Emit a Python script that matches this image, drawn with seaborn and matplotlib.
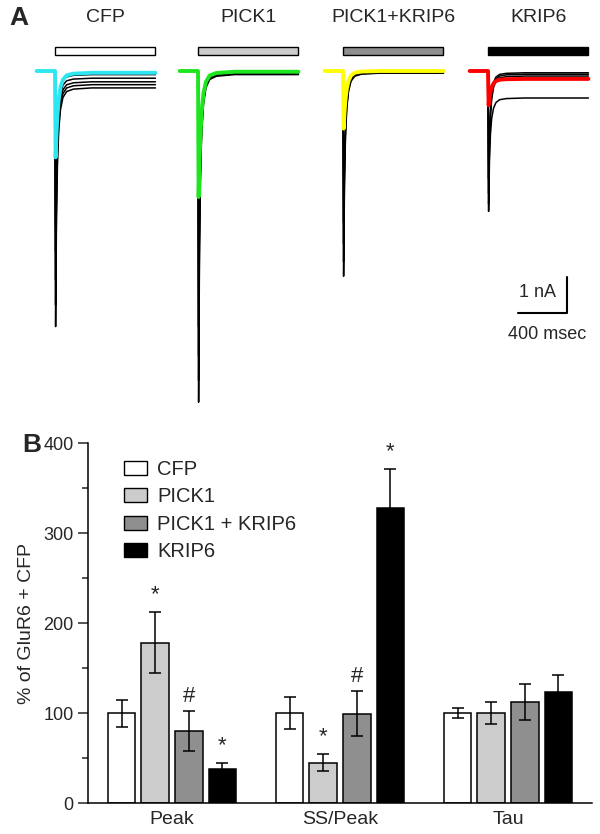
import numpy as np
import pandas as pd
import seaborn as sns
import matplotlib.pyplot as plt
from matplotlib.patches import Rectangle, Patch

# ---- donnees du panneau B (% of GluR6 + CFP) ----
conditions = ["CFP", "PICK1", "PICK1+KRIP6", "KRIP6"]
legend_labels = ["CFP", "PICK1", "PICK1 + KRIP6", "KRIP6"]
metrics = ["Peak", "SS/Peak", "Tau"]
bar_colors = ["#ffffff", "#cccccc", "#8f8f8f", "#000000"]

mean_cfp = [100, 100, 100]
mean_pick1 = [178, 45, 100]
mean_pick1_krip6 = [80, 99, 112]
mean_krip6 = [38, 328, 123]
sem_cfp = [15, 18, 6]
sem_pick1 = [34, 9, 12]
sem_pick1_krip6 = [22, 25, 20]
sem_krip6 = [6, 43, 19]

sig_marks = [("PICK1", "Peak", "*"), ("PICK1+KRIP6", "Peak", "#"), ("KRIP6", "Peak", "*"),
             ("PICK1", "SS/Peak", "*"), ("PICK1+KRIP6", "SS/Peak", "#"), ("KRIP6", "SS/Peak", "*")]

# ---- donnees du panneau A (courants, nA) ----
trace_t = [-150, 0, 5, 12, 20, 30, 45, 65, 95, 150, 300, 820]  # ms depuis l'application
spike_shape = [0, 0, 1.0, 0.55, 0.32, 0.18, 0.09, 0.04, 0.015, 0.005, 0, 0]
avg_shape = [0, 0, 1.0, 0.72, 0.5, 0.32, 0.17, 0.08, 0.03, 0.01, 0, 0]
plateau_on = [0, 0, 1, 1, 1, 1, 1, 1, 1, 1, 1, 1]

peak_cfp = [7.1, 6.5, 5.8, 5.0, 4.3]
ss_cfp = [0.47, 0.38, 0.3, 0.2, 0.1]
peak_pick1 = [9.2, 8.6, 7.9, 7.1]
ss_pick1 = [0.1, 0.08, 0.05, 0.04]
peak_pick1_krip6 = [5.7, 5.3, 4.8, 4.2]
ss_pick1_krip6 = [0.06, 0.05, 0.04, 0.03]
peak_krip6 = [3.9, 3.7, 3.4, 3.0]
ss_krip6 = [0.75, 0.14, 0.09, 0.05]

avg_peak = [2.4, 3.5, 1.6, 0.95]
avg_ss = [0.05, 0.02, 0.0, 0.22]
trace_colors = ["#2ee6f2", "#1ee61e", "#ffff00", "#ff0000"]

sns.set_style("white")
plt.rcParams['font.family'] = ['Liberation Sans', 'DejaVu Sans']

fig = plt.figure(figsize=(6, 8.34), dpi=100)

# ================= Panneau A =================
ms_per_px = 8.163
nA_per_px = 1 / 36
axA = fig.add_axes([0, 1 - 410 / 834, 1, 410 / 834])
axA.set_xlim(0, 600 * ms_per_px)
axA.set_ylim(-(410 - 71) * nA_per_px, 71 * nA_per_px)
axA.axis("off")

onsets = [55 * ms_per_px, 198 * ms_per_px, 343 * ms_per_px, 488 * ms_per_px]
stim_len = 820
black_peaks = [peak_cfp, peak_pick1, peak_pick1_krip6, peak_krip6]
black_ss = [ss_cfp, ss_pick1, ss_pick1_krip6, ss_krip6]

t = np.array(trace_t, dtype=float)
shape_b = np.array(spike_shape)
shape_c = np.array(avg_shape)
on = np.array(plateau_on)

for i, cond in enumerate(conditions):
    x0 = onsets[i]
    for pk, ss in zip(black_peaks[i], black_ss[i]):
        y = -(ss * on + (pk - ss) * shape_b)
        sns.lineplot(x=t + x0, y=y, ax=axA, color="black", lw=1.1, sort=False, estimator=None)
    y = -(avg_ss[i] * on + (avg_peak[i] - avg_ss[i]) * shape_c)
    sns.lineplot(x=t + x0, y=y, ax=axA, color=trace_colors[i], lw=2.8, sort=False, estimator=None)
    # barre d'application
    axA.add_patch(Rectangle((x0, 16 * nA_per_px), stim_len, 8 * nA_per_px,
                            facecolor=bar_colors[i], edgecolor="black", lw=1.0))
    axA.text(x0 + stim_len / 2, (71 - 17) * nA_per_px, cond, ha="center", va="center", fontsize=14)

# barre d'echelle
sb_x = 567 * ms_per_px
sb_y = -(313 - 71) * nA_per_px
axA.plot([sb_x - 400, sb_x, sb_x], [sb_y, sb_y, sb_y + 1], color="black", lw=1.5)
axA.text(sb_x - 240, sb_y + 0.58, "1 nA", ha="center", va="center", fontsize=13)
axA.text(sb_x - 160, sb_y - 0.6, "400 msec", ha="center", va="center", fontsize=13)

fig.text(19 / 600, 1 - 18 / 834, "A", fontsize=19, fontweight="bold", ha="center", va="center")

# ================= Panneau B =================
axB = fig.add_axes([88 / 600, 31 / 834, 504 / 600, 360 / 834])

means = [mean_cfp, mean_pick1, mean_pick1_krip6, mean_krip6]
sems = [sem_cfp, sem_pick1, sem_pick1_krip6, sem_krip6]
rows = []
for c, m, s in zip(conditions, means, sems):
    for k, met in enumerate(metrics):
        rows.append({"metric": met, "condition": c, "value": m[k], "err": s[k]})
df = pd.DataFrame(rows)

sns.barplot(data=df, x="metric", y="value", hue="condition", order=metrics, hue_order=conditions,
            palette=bar_colors, edgecolor="black", linewidth=1.1, errorbar=None,
            width=0.8, gap=0.18, legend=False, ax=axB)

bar_pos = {}
for c, cont in zip(conditions, axB.containers):
    for met, bar in zip(metrics, cont):
        bar_pos[(c, met)] = bar.get_x() + bar.get_width() / 2

for _, r in df.iterrows():
    axB.errorbar(bar_pos[(r["condition"], r["metric"])], r["value"], yerr=r["err"], color="black",
                 lw=1.1, capsize=4.5, capthick=1.1, zorder=5)

for c, met, sym in sig_marks:
    r = df[(df.condition == c) & (df.metric == met)].iloc[0]
    top = r["value"] + r["err"]
    axB.annotate(sym, (bar_pos[(c, met)], top), xytext=(0, 3 if sym == "#" else 5),
                 textcoords="offset points", ha="center", va="bottom", fontsize=16)

axB.set_xlim(-0.5, 2.5)
axB.set_ylim(0, 400)
axB.set_yticks([0, 100, 200, 300, 400])
axB.set_yticks([50, 150, 250, 350], minor=True)
axB.tick_params(axis="y", which="major", length=7, width=1.1, labelsize=13, direction="out", left=True)
axB.tick_params(axis="y", which="minor", length=4.5, width=1.1, direction="out", left=True)
axB.tick_params(axis="x", length=0, labelsize=14, pad=6)
axB.set_xlabel("")
axB.set_ylabel("% of GluR6 + CFP", fontsize=14, labelpad=6)
sns.despine(ax=axB)
for sp in ["left", "bottom"]:
    axB.spines[sp].set_linewidth(1.1)
    axB.spines[sp].set_color("black")

handles = [Patch(facecolor=col, edgecolor="black", lw=1.0) for col in bar_colors]
axB.legend(handles, legend_labels, loc="upper left", bbox_to_anchor=(0.071, 0.953), frameon=False,
           fontsize=14.5, handlelength=1.15, handleheight=0.68, handletextpad=0.5,
           labelspacing=0.42, borderpad=0, borderaxespad=0)

fig.text(32 / 600, 1 - 445 / 834, "B", fontsize=19, fontweight="bold", ha="center", va="center")

fig.savefig("out.png", dpi=100)
